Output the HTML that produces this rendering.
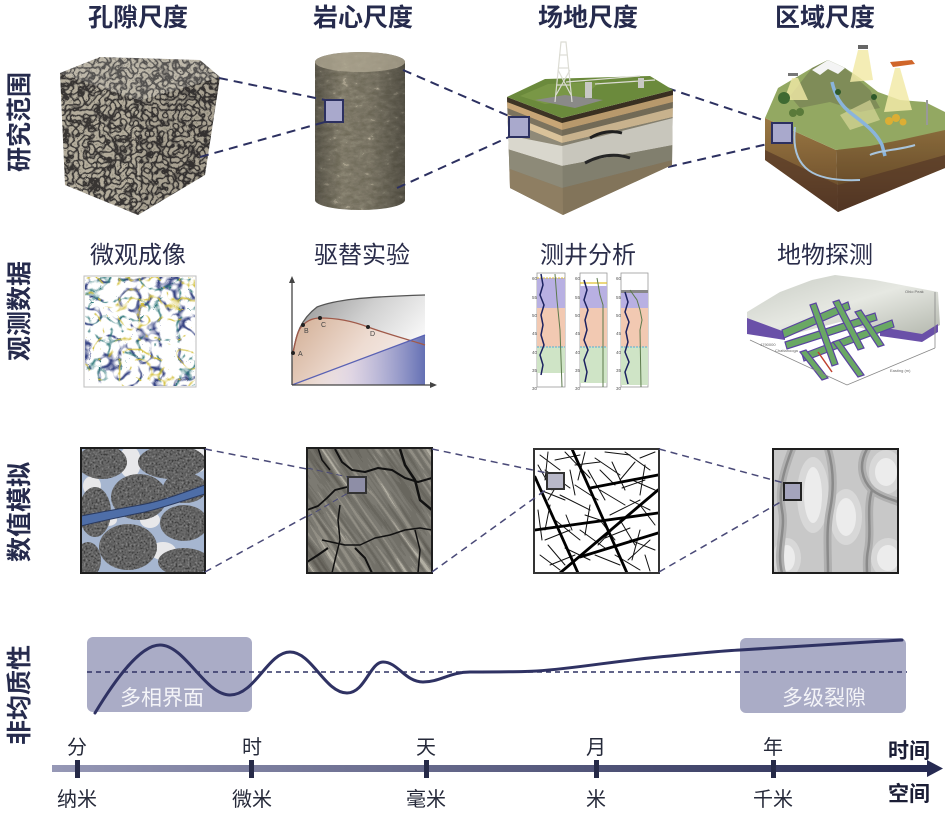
<!DOCTYPE html>
<html><head><meta charset="utf-8">
<style>
html,body{margin:0;padding:0;background:#fff;}
svg{display:block;}
text{font-family:"Liberation Sans","Noto Sans CJK SC",sans-serif;}
</style></head>
<body>
<svg width="945" height="816" viewBox="0 0 945 816" xmlns="http://www.w3.org/2000/svg">
<defs>
 <filter id="fPore" color-interpolation-filters="sRGB">
  <feTurbulence type="turbulence" baseFrequency="0.19" numOctaves="1" seed="2" result="t"/>
  <feColorMatrix in="t" type="matrix" values="1 0 0 0 0 1 0 0 0 0 1 0 0 0 0 0 0 0 0 1" result="g"/>
  <feComponentTransfer in="g" result="c">
   <feFuncR type="discrete" tableValues="0.22 0.46 0.66 0.72 0.7 0.62 0.7 0.68 0.7 0.7"/>
   <feFuncG type="discrete" tableValues="0.21 0.44 0.64 0.69 0.67 0.6 0.67 0.65 0.67 0.67"/>
   <feFuncB type="discrete" tableValues="0.2 0.41 0.58 0.62 0.6 0.54 0.6 0.58 0.6 0.6"/>
  </feComponentTransfer>
  <feComposite in="c" in2="SourceGraphic" operator="in"/>
 </filter>
 <filter id="fCore" color-interpolation-filters="sRGB">
  <feTurbulence type="fractalNoise" baseFrequency="0.12 0.22" numOctaves="3" seed="4"/>
  <feColorMatrix type="matrix" values="1 0 0 0 0 1 0 0 0 0 1 0 0 0 0 0 0 0 0 1"/>
  <feComponentTransfer>
   <feFuncR type="discrete" tableValues="0.42 0.45 0.47 0.49 0.51 0.54 0.66 0.78"/>
   <feFuncG type="discrete" tableValues="0.4 0.43 0.45 0.47 0.49 0.52 0.63 0.74"/>
   <feFuncB type="discrete" tableValues="0.34 0.36 0.38 0.4 0.42 0.45 0.55 0.66"/>
  </feComponentTransfer>
  <feComposite in2="SourceGraphic" operator="in"/>
 </filter>
 <filter id="fGrain" color-interpolation-filters="sRGB">
  <feTurbulence type="fractalNoise" baseFrequency="0.5" numOctaves="1" seed="9"/>
  <feColorMatrix type="matrix" values="1 0 0 0 0 1 0 0 0 0 1 0 0 0 0 0 0 0 0 1"/>
  <feComponentTransfer>
   <feFuncR type="discrete" tableValues="0.15 0.25 0.35 0.42 0.5 0.62"/>
   <feFuncG type="discrete" tableValues="0.15 0.25 0.35 0.42 0.5 0.62"/>
   <feFuncB type="discrete" tableValues="0.15 0.25 0.35 0.42 0.5 0.62"/>
  </feComponentTransfer>
  <feComposite in2="SourceGraphic" operator="in"/>
 </filter>
 <filter id="fRock" x="0" y="0" width="1" height="1" color-interpolation-filters="sRGB">
  <feTurbulence type="fractalNoise" baseFrequency="0.012 0.22" numOctaves="2" seed="5"/>
  <feColorMatrix type="matrix" values="1 0 0 0 0 1 0 0 0 0 1 0 0 0 0 0 0 0 0 1"/>
  <feComponentTransfer>
   <feFuncR type="discrete" tableValues="0.33 0.37 0.41 0.45 0.49 0.57 0.7 0.8"/>
   <feFuncG type="discrete" tableValues="0.32 0.36 0.4 0.44 0.48 0.56 0.69 0.79"/>
   <feFuncB type="discrete" tableValues="0.29 0.33 0.37 0.41 0.45 0.52 0.64 0.74"/>
  </feComponentTransfer>
 </filter>
 <filter id="fNetB" x="0" y="0" width="1" height="1" color-interpolation-filters="sRGB">
  <feTurbulence type="turbulence" baseFrequency="0.05" numOctaves="2" seed="7"/>
  <feColorMatrix type="matrix" values="0 0 0 0 0.22 0 0 0 0 0.27 0 0 0 0 0.52 -8 0 0 0 1.2"/>
 </filter>
 <filter id="fNetT" x="0" y="0" width="1" height="1" color-interpolation-filters="sRGB">
  <feTurbulence type="turbulence" baseFrequency="0.05" numOctaves="2" seed="3"/>
  <feColorMatrix type="matrix" values="0 0 0 0 0.14 0 0 0 0 0.44 0 0 0 0 0.45 -9 0 0 0 1.05"/>
 </filter>
 <filter id="fNetY" x="0" y="0" width="1" height="1" color-interpolation-filters="sRGB">
  <feTurbulence type="turbulence" baseFrequency="0.05" numOctaves="2" seed="11"/>
  <feColorMatrix type="matrix" values="0 0 0 0 0.82 0 0 0 0 0.74 0 0 0 0 0.2 -10 0 0 0 1.1"/>
 </filter>
 <linearGradient id="gCyl" x1="0" y1="0" x2="1" y2="0">
  <stop offset="0" stop-color="#000" stop-opacity="0.3"/>
  <stop offset="0.3" stop-color="#000" stop-opacity="0"/>
  <stop offset="0.6" stop-color="#000" stop-opacity="0.05"/>
  <stop offset="1" stop-color="#000" stop-opacity="0.35"/>
 </linearGradient>
 <linearGradient id="gGray" x1="0" y1="0" x2="1" y2="0.6">
  <stop offset="0" stop-color="#8d8d8d"/>
  <stop offset="0.5" stop-color="#d0d0d0"/>
  <stop offset="1" stop-color="#ffffff"/>
 </linearGradient>
 <linearGradient id="gBrown" x1="0" y1="0" x2="1" y2="0.4">
  <stop offset="0" stop-color="#d2ae94"/>
  <stop offset="0.6" stop-color="#eedcd2"/>
  <stop offset="1" stop-color="#f4ecea"/>
 </linearGradient>
 <linearGradient id="gBlue" x1="0" y1="0" x2="1" y2="0">
  <stop offset="0" stop-color="#ffffff" stop-opacity="0"/>
  <stop offset="0.45" stop-color="#d8d0e8" stop-opacity="0.7"/>
  <stop offset="1" stop-color="#6470b4"/>
 </linearGradient>
 <linearGradient id="gBar" x1="0" y1="0" x2="1" y2="0">
  <stop offset="0" stop-color="#9698b6"/>
  <stop offset="1" stop-color="#262a52"/>
 </linearGradient>
 <linearGradient id="gRegFace" x1="0" y1="0" x2="0" y2="1">
  <stop offset="0" stop-color="#9a7843"/>
  <stop offset="0.6" stop-color="#7a5a32"/>
  <stop offset="1" stop-color="#4e3420"/>
 </linearGradient>
 <linearGradient id="gTerr" x1="0" y1="0" x2="1" y2="1">
  <stop offset="0" stop-color="#c8ccc4"/>
  <stop offset="0.5" stop-color="#e6e8e2"/>
  <stop offset="1" stop-color="#b4b8ae"/>
 </linearGradient>
 <clipPath id="cField"><polygon points="507,97 562,118 673,90 672,165 563,215 510,188"/></clipPath>
 <clipPath id="cB1"><rect x="81" y="448" width="124" height="125"/></clipPath>
 <clipPath id="cB2"><rect x="307" y="448" width="125" height="125"/></clipPath>
 <clipPath id="cB3"><rect x="534" y="449" width="125" height="124"/></clipPath>
 <clipPath id="cB4"><rect x="773" y="449" width="125" height="124"/></clipPath>
 <clipPath id="cMic"><rect x="85" y="277" width="110" height="109"/></clipPath>
</defs>

<!-- ============ Titles ============ -->
<g font-size="25" font-weight="700" fill="#262b4d" text-anchor="middle">
 <text x="138" y="26">孔隙尺度</text>
 <text x="363" y="26">岩心尺度</text>
 <text x="588" y="26">场地尺度</text>
 <text x="825" y="26">区域尺度</text>
</g>
<g font-size="25" font-weight="700" fill="#262b4d" text-anchor="middle">
 <text transform="translate(28,122) rotate(-90)">研究范围</text>
 <text transform="translate(28,311) rotate(-90)">观测数据</text>
 <text transform="translate(28,512) rotate(-90)">数值模拟</text>
 <text transform="translate(28,695) rotate(-90)">非均质性</text>
</g>

<!-- ============ Row 1 ============ -->
<g>
 <polygon points="60,73 100,57 200,60 220,77 140,100" fill="#fff" filter="url(#fPore)"/>
 <polygon points="60,73 140,100 138,215 65,185" fill="#fff" filter="url(#fPore)"/>
 <polygon points="140,100 220,77 205,175 138,215" fill="#fff" filter="url(#fPore)"/>
 <polygon points="60,73 100,57 200,60 220,77 140,100" fill="#fff" opacity="0.15"/>
 <polygon points="140,100 220,77 205,175 138,215" fill="#000" opacity="0.06"/>
</g>
<g>
 <path d="M315,62 L315,200 A45,10 0 0 0 405,200 L405,62 A45,10 0 0 0 315,62 Z" fill="#fff" filter="url(#fCore)"/>
 <path d="M315,62 L315,200 A45,10 0 0 0 405,200 L405,62 A45,10 0 0 0 315,62 Z" fill="url(#gCyl)"/>
 <ellipse cx="360" cy="62" rx="45" ry="10" fill="#b2aa94" opacity="0.75"/>
</g>
<g stroke="#2c3060" stroke-width="2" stroke-dasharray="9 6" fill="none">
 <line x1="219" y1="78" x2="325" y2="100"/>
 <line x1="200" y1="157" x2="325" y2="122"/>
 <line x1="403" y1="70" x2="509" y2="116"/>
 <line x1="397" y1="188" x2="509" y2="137"/>
 <line x1="667" y1="88" x2="772" y2="123"/>
 <line x1="668" y1="167" x2="772" y2="143"/>
</g>
<rect x="325" y="100" width="18" height="22" fill="#a9a9cc" stroke="#2c3060" stroke-width="2"/>

<g clip-path="url(#cField)">
 <rect x="500" y="85" width="180" height="135" fill="#857a66"/>
 <polygon points="507,97 562,118 673,90 673,96 562,124 507,103" fill="#3e3424"/>
 <polygon points="507,102 562,123 673,95 673,102 562,130 507,108" fill="#c8a676"/>
 <polygon points="507,108 562,130 673,102 673,108 562,136 507,114" fill="#7c735e"/>
 <polygon points="507,114 562,136 673,108 673,117 562,143 507,121" fill="#d9c29a"/>
 <polygon points="507,121 562,143 673,117 673,118 562,146 507,135" fill="#8f8a78"/>
 <polygon points="507,135 562,146 673,118 673,145 562,166 507,149" fill="#d9d7cd"/>
 <polygon points="507,149 562,166 673,145 673,160 562,188 507,168" fill="#8d8a78"/>
 <polygon points="507,168 562,188 673,160 673,220 562,220 507,220" fill="#8e7e62"/>
 <path d="M590,138 C600,132 612,130 622,133" stroke="#222" stroke-width="3" fill="none"/>
 <path d="M585,163 C600,155 615,153 630,158" stroke="#2a2a2a" stroke-width="3" fill="none"/>
 <polygon points="562,118 673,90 672,165 563,215" fill="#000" opacity="0.08"/>
</g>
<polygon points="507,97 545,79 650,76 673,90 562,118" fill="#6b8a3c"/>
<polygon points="520,96 548,84 600,82 580,100 545,104" fill="#7d9a48" opacity="0.8"/>
<polygon points="535,100 565,95 603,100 575,108" fill="#8a8a88"/>
<g stroke="#dcdcd4" stroke-width="1.2" fill="none">
 <polyline points="555,102 561,42 566,42 572,102"/>
 <line x1="557" y1="85" x2="570" y2="85"/>
 <line x1="558" y1="68" x2="569" y2="68"/>
 <line x1="559" y1="55" x2="567" y2="55"/>
 <line x1="556" y1="95" x2="570" y2="70"/>
 <line x1="571" y1="95" x2="558" y2="70"/>
 <line x1="566" y1="82" x2="640" y2="76"/>
 <line x1="595" y1="84" x2="655" y2="80"/>
</g>
<rect x="585" y="82" width="7" height="16" fill="#c8c8c4"/>
<rect x="638" y="78" width="6" height="10" fill="#c8c8c4"/>
<rect x="509" y="117" width="20" height="20" fill="#a9a9cc" stroke="#2c3060" stroke-width="2"/>

<g>
 <polygon points="765,118 836,150 838,212 765,160" fill="url(#gRegFace)"/>
 <polygon points="836,150 945,128 945,168 838,212" fill="url(#gRegFace)"/>
 <polygon points="836,150 945,128 945,168 838,212" fill="#000" opacity="0.1"/>
 <polygon points="765,150 838,185 945,155 945,168 838,212 765,160" fill="#553826" opacity="0.7"/>
 <polygon points="765,118 778,88 795,78 812,68 828,60 845,68 860,78 878,92 900,100 925,102 945,112 945,130 900,140 870,146 836,150" fill="#93a862"/>
 <polygon points="790,96 812,68 828,60 845,68 870,90 880,108 860,112 830,102 800,108" fill="#7f8c58"/>
 <polygon points="812,70 828,60 845,68 838,74 828,69 820,75" fill="#f4f4f4"/>
 <polygon points="858,50 868,50 873,80 850,82" fill="#f2eaa8" opacity="0.85"/>
 <polygon points="895,68 900,68 912,110 884,112" fill="#f2eaa8" opacity="0.85"/>
 <polygon points="792,78 798,78 808,100 784,100" fill="#f2eaa8" opacity="0.8"/>
 <polygon points="840,115 870,100 880,120 850,130" fill="#e2e0a0" opacity="0.6"/>
 <path d="M832,82 C835,95 840,105 852,114 C865,124 876,132 882,145 L885,156" stroke="#8ab4dc" stroke-width="3.5" fill="none"/>
 <path d="M795,127 C790,170 815,182 860,180" stroke="#a8c4dc" stroke-width="2" fill="none"/>
 <path d="M870,155 C880,150 900,150 915,145" stroke="#a8c4dc" stroke-width="2" fill="none"/>
 <circle cx="784" cy="98" r="6" fill="#3f6a32"/>
 <circle cx="793" cy="113" r="4" fill="#5a7a3a"/>
 <circle cx="800" cy="112" r="4" fill="#5a7a3a"/>
 <circle cx="838" cy="92" r="3" fill="#2f5a2a"/>
 <circle cx="874" cy="97" r="3" fill="#2f5a2a"/>
 <circle cx="889" cy="121" r="4" fill="#dcae34"/>
 <circle cx="896" cy="118" r="4" fill="#dcae34"/>
 <circle cx="903" cy="122" r="3.5" fill="#dcae34"/>
 <rect x="858" y="45" width="10" height="4" fill="#666"/>
 <polygon points="890,62 912,60 915,64 893,67" fill="#d0662a"/>
 <rect x="788" y="73" width="10" height="3" fill="#777"/>
 <line x1="927" y1="100" x2="927" y2="125" stroke="#999" stroke-width="2"/>
 <rect x="772" y="123" width="20" height="20" fill="#a9a9cc" stroke="#2c3060" stroke-width="2"/>
</g>

<!-- ============ Row 2 ============ -->
<g font-size="24" fill="#2a2d4a" text-anchor="middle">
 <text x="138" y="263">微观成像</text>
 <text x="362" y="263">驱替实验</text>
 <text x="588" y="263">测井分析</text>
 <text x="825" y="263">地物探测</text>
</g>
<rect x="84" y="276" width="112" height="111" fill="#fff" stroke="#bdbdbd" stroke-width="1"/>
<g clip-path="url(#cMic)">
 <rect x="85" y="277" width="110" height="109" fill="#fff" filter="url(#fNetB)"/>
 <rect x="85" y="277" width="110" height="109" fill="#fff" filter="url(#fNetT)" opacity="0.9"/>
 <rect x="85" y="277" width="110" height="109" fill="#fff" filter="url(#fNetY)" opacity="0.9"/>
</g>
<g>
 <path d="M292,385 L293,353 C296,335 300,320 317,307 C335,300 360,297 425,295 L425,385 Z" fill="url(#gGray)"/>
 <path d="M292,385 L293,353 C296,338 298,329 303,325 C308,320 314,318 320,318 C340,318 355,322 368,327 C390,335 410,340 425,345 L425,385 Z" fill="url(#gBrown)"/>
 <path d="M292,385 L425,335 L425,385 Z" fill="url(#gBlue)"/>
 <path d="M293,353 C296,335 300,320 317,307 C335,300 360,297 425,295" stroke="#555" stroke-width="1.3" fill="none"/>
 <path d="M293,353 C296,338 298,329 303,325 C308,320 314,318 320,318 C340,318 355,322 368,327 C390,335 410,340 425,345" stroke="#a05a4a" stroke-width="1.3" fill="none"/>
 <line x1="292" y1="385" x2="425" y2="335" stroke="#5a62b4" stroke-width="1.3"/>
 <line x1="292" y1="385" x2="292" y2="281" stroke="#444" stroke-width="1.3"/>
 <line x1="292" y1="385" x2="432" y2="385" stroke="#444" stroke-width="1.3"/>
 <polygon points="289,283 292,276 295,283" fill="#444"/>
 <polygon points="430,382 437,385 430,388" fill="#444"/>
 <g fill="#222"><circle cx="293" cy="353" r="2"/><circle cx="303" cy="325" r="2"/><circle cx="320" cy="318" r="2"/><circle cx="368" cy="327" r="2"/></g>
 <g font-size="7" fill="#444"><text x="298" y="356">A</text><text x="304" y="333">B</text><text x="321" y="327">C</text><text x="370" y="336">D</text></g>
</g>
<g>
 <g>
  <rect x="537" y="273" width="28" height="114" fill="#fff" stroke="#999" stroke-width="0.8"/>
  <rect x="537" y="278" width="28" height="30" fill="#b8b0e2"/>
  <rect x="537" y="308" width="28" height="39" fill="#f2c9b2"/>
  <rect x="537" y="347" width="28" height="26" fill="#cfe4c6"/>
  <line x1="537" y1="278" x2="565" y2="278" stroke="#e0c030" stroke-dasharray="2 1"/>
  <line x1="537" y1="347" x2="565" y2="347" stroke="#50b0d8" stroke-dasharray="2 1"/>
  <polyline points="541,274 543,285 540,295 544,305 541,315 543,325 541,335 544,345 540,355 543,365 541,375" stroke="#1c2260" stroke-width="1.5" fill="none"/>
  <polyline points="555,274 557,300 560,330 562,387" stroke="#5c7a4c" stroke-width="1" fill="none"/>
 </g>
 <g>
  <rect x="580" y="273" width="27" height="114" fill="#fff" stroke="#999" stroke-width="0.8"/>
  <rect x="580" y="286" width="27" height="22" fill="#b8b0e2"/>
  <rect x="580" y="308" width="27" height="39" fill="#f2c9b2"/>
  <rect x="580" y="347" width="27" height="36" fill="#cfe4c6"/>
  <line x1="580" y1="283" x2="607" y2="283" stroke="#e0c030" stroke-width="1.2"/>
  <line x1="580" y1="347" x2="607" y2="347" stroke="#50b0d8" stroke-dasharray="2 1"/>
  <polyline points="584,280 587,290 584,300 588,310 585,320 587,330 584,340 588,350 584,360 587,372 585,382" stroke="#1c2260" stroke-width="1.5" fill="none"/>
  <polyline points="597,278 600,295 603,305 603,387" stroke="#5c7a4c" stroke-width="1" fill="none"/>
 </g>
 <g>
  <rect x="621" y="273" width="27" height="114" fill="#fff" stroke="#999" stroke-width="0.8"/>
  <rect x="621" y="290" width="27" height="3" fill="#888"/>
  <rect x="621" y="293" width="27" height="15" fill="#b8b0e2"/>
  <rect x="621" y="308" width="27" height="39" fill="#f2c9b2"/>
  <rect x="621" y="347" width="27" height="38" fill="#cfe4c6"/>
  <line x1="621" y1="347" x2="648" y2="347" stroke="#50b0d8" stroke-dasharray="2 1"/>
  <polyline points="625,292 628,302 625,312 629,322 626,332 628,342 625,352 629,362 625,372 628,384" stroke="#1c2260" stroke-width="1.5" fill="none"/>
  <polyline points="630,290 637,300 640,310 642,320 640,330 641,387" stroke="#5c7a4c" stroke-width="1" fill="none"/>
 </g>
 <g font-size="4.5" fill="#555" text-anchor="end">
  <text x="537" y="280">60</text><text x="537" y="299">55</text><text x="537" y="317">50</text><text x="537" y="335">45</text><text x="537" y="354">40</text><text x="537" y="372">35</text><text x="537" y="390">30</text>
  <text x="580" y="280">60</text><text x="580" y="299">55</text><text x="580" y="317">50</text><text x="580" y="335">45</text><text x="580" y="354">40</text><text x="580" y="372">35</text><text x="580" y="390">30</text>
  <text x="621" y="280">60</text><text x="621" y="299">55</text><text x="621" y="317">50</text><text x="621" y="335">45</text><text x="621" y="354">40</text><text x="621" y="372">35</text><text x="621" y="390">30</text>
 </g>
</g>
<g>
 <polygon points="747,312 780,292 812,280 835,275 875,280 938,292 940,325 922,335 880,333 840,322 790,335 747,330" fill="url(#gTerr)"/>
 <polygon points="747,318 785,332 785,340 747,334" fill="#6a50a8"/>
 <polygon points="880,327 922,334 938,324 938,332 922,342 880,336" fill="#6a50a8"/>
 <g fill="#6aa864" stroke="#5a44a0" stroke-width="1.2">
  <polygon points="782,330 848,302 850,309 784,338"/>
  <polygon points="785,342 875,313 877,320 787,349"/>
  <polygon points="802,354 892,320 894,327 804,361"/>
  <polygon points="810,305 816,303 838,364 832,366"/>
  <polygon points="833,302 839,300 864,348 858,350"/>
  <polygon points="855,312 861,310 884,345 878,347"/>
  <polygon points="800,352 806,350 828,378 822,380"/>
  <polygon points="833,342 839,340 864,375 858,377"/>
 </g>
 <path d="M818,352 L832,372" stroke="#c04030" stroke-width="1.5"/>
 <g stroke="#888" stroke-width="0.8" fill="none">
  <polyline points="750,340 847,385 935,348"/>
  <line x1="935" y1="292" x2="935" y2="348"/>
 </g>
 <g font-size="4" fill="#666">
  <text x="775" y="352">Chattanooga</text>
  <text x="760" y="346">4790000</text>
  <text x="890" y="372">Easting (m)</text>
  <text x="905" y="293">Ohio Peak</text>
 </g>
</g>

<!-- ============ Row 3 ============ -->
<g clip-path="url(#cB1)">
 <rect x="81" y="448" width="124" height="125" fill="#a6b6d0"/>
 <g fill="#e8e8ea">
  <ellipse cx="130" cy="462" rx="11" ry="16"/>
  <ellipse cx="92" cy="486" rx="9" ry="10"/>
  <ellipse cx="199" cy="460" rx="8" ry="12"/>
  <ellipse cx="163" cy="551" rx="13" ry="9"/>
  <ellipse cx="108" cy="520" rx="9" ry="6"/>
  <ellipse cx="150" cy="520" rx="10" ry="8"/>
 </g>
 <g fill="#fff" filter="url(#fGrain)">
  <ellipse cx="102" cy="462" rx="25" ry="17"/>
  <ellipse cx="172" cy="462" rx="34" ry="17"/>
  <ellipse cx="95" cy="512" rx="16" ry="25"/>
  <ellipse cx="139" cy="497" rx="28" ry="23"/>
  <ellipse cx="185" cy="488" rx="22" ry="15"/>
  <ellipse cx="184" cy="523" rx="24" ry="18"/>
  <ellipse cx="128" cy="547" rx="29" ry="23"/>
  <ellipse cx="88" cy="560" rx="13" ry="18"/>
  <ellipse cx="184" cy="562" rx="26" ry="14"/>
 </g>
 <path d="M81,516 C100,512 125,508 145,504 C165,500 185,492 205,485 L205,494 C185,500 165,507 145,512 C125,516 100,521 81,526 Z" fill="#4e6ea8" stroke="#2a3a60" stroke-width="1"/>
</g>
<rect x="81" y="448" width="124" height="125" fill="none" stroke="#1e1e1e" stroke-width="2"/>

<g clip-path="url(#cB2)">
 <rect x="307" y="448" width="125" height="125" fill="#6a665e"/>
 <g transform="rotate(55 370 510)"><rect x="260" y="400" width="220" height="220" fill="#fff" filter="url(#fRock)"/></g>
 <g stroke="#111" fill="none" stroke-linejoin="round">
  <path d="M335,449 L342,462 L352,470 L365,472 L378,468 L392,470 L405,478 L418,482 L432,478" stroke-width="2"/>
  <path d="M400,449 L405,465 L415,480 L420,500 L432,510" stroke-width="2.5"/>
  <path d="M307,510 L318,506 L327,498 L335,490 L347,487" stroke-width="1.8"/>
  <path d="M340,505 L338,520 L340,540 L335,560 L332,573" stroke-width="1.5"/>
  <path d="M322,540 L345,545 L360,545 L375,538 L390,535 L405,530 L420,528 L432,530" stroke-width="1.5"/>
  <path d="M355,548 L365,558 L372,573" stroke-width="2"/>
  <path d="M307,562 L318,555 L328,548" stroke-width="2"/>
  <path d="M318,448 L322,460 L330,470" stroke-width="1.5"/>
  <path d="M415,530 L420,550 L418,573" stroke-width="1.5"/>
 </g>
 <line x1="307" y1="468" x2="348" y2="477" stroke="#4a4a78" stroke-width="1" stroke-dasharray="6 4"/>
 <line x1="307" y1="517" x2="348" y2="493" stroke="#4a4a78" stroke-width="1" stroke-dasharray="6 4"/>
</g>
<rect x="307" y="448" width="125" height="125" fill="none" stroke="#1e1e1e" stroke-width="2"/>
<rect x="348" y="477" width="18" height="16" fill="#8e8ea6" stroke="#333" stroke-width="2"/>

<g clip-path="url(#cB3)">
 <rect x="534" y="449" width="125" height="124" fill="#fff"/>
 <g stroke="#111" stroke-width="1" stroke-linecap="round">
  <line x1="540" y1="455" x2="560" y2="470"/><line x1="548" y1="452" x2="545" y2="480"/>
  <line x1="555" y1="460" x2="580" y2="455"/><line x1="565" y1="452" x2="590" y2="478"/>
  <line x1="575" y1="465" x2="600" y2="462"/><line x1="585" y1="452" x2="578" y2="480"/>
  <line x1="595" y1="458" x2="620" y2="475"/><line x1="605" y1="452" x2="630" y2="455"/>
  <line x1="612" y1="462" x2="625" y2="490"/><line x1="625" y1="452" x2="650" y2="470"/>
  <line x1="640" y1="458" x2="655" y2="452"/><line x1="645" y1="465" x2="640" y2="495"/>
  <line x1="632" y1="480" x2="655" y2="490"/><line x1="540" y1="490" x2="565" y2="500"/>
  <line x1="550" y1="505" x2="545" y2="530"/><line x1="560" y1="495" x2="590" y2="510"/>
  <line x1="575" y1="485" x2="598" y2="500"/><line x1="590" y1="505" x2="585" y2="535"/>
  <line x1="600" y1="490" x2="625" y2="505"/><line x1="610" y1="515" x2="640" y2="500"/>
  <line x1="620" y1="520" x2="635" y2="545"/><line x1="640" y1="505" x2="655" y2="525"/>
  <line x1="545" y1="540" x2="570" y2="530"/><line x1="540" y1="555" x2="560" y2="570"/>
  <line x1="555" y1="520" x2="580" y2="540"/><line x1="565" y1="548" x2="590" y2="560"/>
  <line x1="580" y1="530" x2="605" y2="548"/><line x1="595" y1="555" x2="620" y2="565"/>
  <line x1="605" y1="538" x2="630" y2="528"/><line x1="615" y1="555" x2="640" y2="570"/>
  <line x1="630" y1="540" x2="655" y2="550"/><line x1="645" y1="555" x2="650" y2="571"/>
  <line x1="538" y1="510" x2="542" y2="540"/><line x1="570" y1="470" x2="575" y2="495"/>
  <line x1="600" y1="470" x2="615" y2="485"/><line x1="622" y1="488" x2="645" y2="480"/>
  <line x1="585" y1="515" x2="600" y2="520"/><line x1="550" y1="565" x2="575" y2="555"/>
  <line x1="640" y1="530" x2="632" y2="560"/><line x1="560" y1="480" x2="548" y2="500"/>
  <line x1="538" y1="465" x2="552" y2="490"/><line x1="612" y1="530" x2="598" y2="545"/>
  <line x1="628" y1="560" x2="650" y2="540"/><line x1="566" y1="515" x2="572" y2="530"/>
  <line x1="545" y1="470" x2="570" y2="488"/><line x1="588" y1="470" x2="605" y2="500"/>
  <line x1="630" y1="500" x2="650" y2="510"/><line x1="600" y1="520" x2="615" y2="540"/>
  <line x1="548" y1="545" x2="565" y2="565"/><line x1="635" y1="462" x2="620" y2="480"/>
 </g>
 <g stroke="#000" stroke-width="2.8" stroke-linecap="round">
  <line x1="572" y1="449" x2="627" y2="573"/>
  <line x1="535" y1="477" x2="578" y2="573"/>
  <line x1="535" y1="530" x2="658" y2="513"/>
  <line x1="590" y1="488" x2="658" y2="475"/>
  <line x1="560" y1="573" x2="658" y2="490"/>
  <line x1="580" y1="557" x2="658" y2="533"/>
 </g>
</g>
<rect x="534" y="449" width="125" height="124" fill="none" stroke="#333" stroke-width="2"/>
<rect x="547" y="473" width="17" height="16" fill="#b8b8c8" stroke="#333" stroke-width="2"/>

<g clip-path="url(#cB4)">
 <rect x="773" y="449" width="125" height="124" fill="#c8c8c8"/>
 <g fill="#d8d8d8">
  <ellipse cx="813" cy="495" rx="16" ry="38"/>
  <ellipse cx="846" cy="517" rx="16" ry="28"/>
  <ellipse cx="886" cy="472" rx="17" ry="22"/>
  <ellipse cx="888" cy="558" rx="17" ry="20"/>
  <ellipse cx="787" cy="558" rx="14" ry="20"/>
 </g>
 <g fill="#ececec">
  <ellipse cx="813" cy="495" rx="9" ry="28"/>
  <ellipse cx="846" cy="517" rx="10" ry="19"/>
  <ellipse cx="886" cy="472" rx="11" ry="14"/>
  <ellipse cx="888" cy="558" rx="11" ry="13"/>
  <ellipse cx="787" cy="558" rx="8" ry="13"/>
 </g>
 <g fill="none" stroke-linecap="round">
  <g stroke="#b0b0b0" stroke-width="8">
   <path d="M792,449 C784,470 778,490 782,510 C786,530 776,550 782,573"/>
   <path d="M828,449 C834,470 834,490 830,510 C826,530 828,550 828,573"/>
   <path d="M867,449 C858,465 862,480 872,490 C882,498 895,500 898,502"/>
   <path d="M872,490 C866,510 872,530 868,550 C866,560 867,566 867,573"/>
  </g>
  <g stroke="#8a8a8a" stroke-width="2.5">
   <path d="M792,449 C784,470 778,490 782,510 C786,530 776,550 782,573"/>
   <path d="M828,449 C834,470 834,490 830,510 C826,530 828,550 828,573"/>
   <path d="M867,449 C858,465 862,480 872,490 C882,498 895,500 898,502"/>
   <path d="M872,490 C866,510 872,530 868,550 C866,560 867,566 867,573"/>
  </g>
 </g>
</g>
<rect x="773" y="449" width="125" height="124" fill="none" stroke="#1e1e1e" stroke-width="2"/>
<rect x="784" y="483" width="17" height="17" fill="#a4a4bc" stroke="#222" stroke-width="2"/>

<g stroke="#4a4a78" stroke-width="1.5" stroke-dasharray="7 5" fill="none">
 <line x1="205" y1="449" x2="307" y2="469"/>
 <line x1="205" y1="572" x2="307" y2="516"/>
 <line x1="432" y1="449" x2="547" y2="473"/>
 <line x1="432" y1="572" x2="547" y2="489"/>
 <line x1="659" y1="449" x2="784" y2="483"/>
 <line x1="659" y1="572" x2="784" y2="500"/>
</g>

<!-- ============ Row 4 ============ -->
<rect x="87" y="637" width="165" height="75" rx="6" fill="#aaacc6"/>
<rect x="740" y="638" width="166" height="75" rx="6" fill="#aaacc6"/>
<g font-size="21" fill="#f4f4f8" text-anchor="middle">
 <text x="162" y="705">多相界面</text>
 <text x="824" y="705">多级裂隙</text>
</g>
<line x1="87" y1="672" x2="907" y2="672" stroke="#2f3263" stroke-width="1.5" stroke-dasharray="5 4"/>
<path d="M95,713 C115,680 140,645 160,645 C185,645 205,695 230,695 C255,695 268,652 290,652 C312,652 325,693 347,693 C365,693 370,662 383,662 C398,662 405,682 423,682 C440,682 450,672 470,672 C500,672 520,672 537,671 C580,668 620,660 670,656 C700,653 720,651 740,650 C800,646 850,643 902,640" stroke="#2f3263" stroke-width="3" fill="none" stroke-linecap="round"/>

<rect x="52" y="765" width="878" height="7" fill="url(#gBar)"/>
<polygon points="927,760 943,768.5 927,777" fill="#262a52"/>
<g fill="#262a48">
 <rect x="75" y="760" width="5" height="18"/>
 <rect x="249" y="760" width="5" height="18"/>
 <rect x="424" y="760" width="5" height="18"/>
 <rect x="594" y="760" width="5" height="18"/>
 <rect x="771" y="760" width="5" height="18"/>
</g>
<g font-size="20" fill="#262a3a" text-anchor="middle">
 <text x="77" y="754">分</text>
 <text x="252" y="754">时</text>
 <text x="426" y="754">天</text>
 <text x="596" y="754">月</text>
 <text x="773" y="754">年</text>
 <text x="77" y="806">纳米</text>
 <text x="252" y="806">微米</text>
 <text x="426" y="806">毫米</text>
 <text x="596" y="806">米</text>
 <text x="773" y="806">千米</text>
</g>
<g font-size="21" font-weight="700" fill="#1b1e36" text-anchor="middle">
 <text x="909" y="758">时间</text>
 <text x="909" y="801">空间</text>
</g>
</svg>
</body></html>
